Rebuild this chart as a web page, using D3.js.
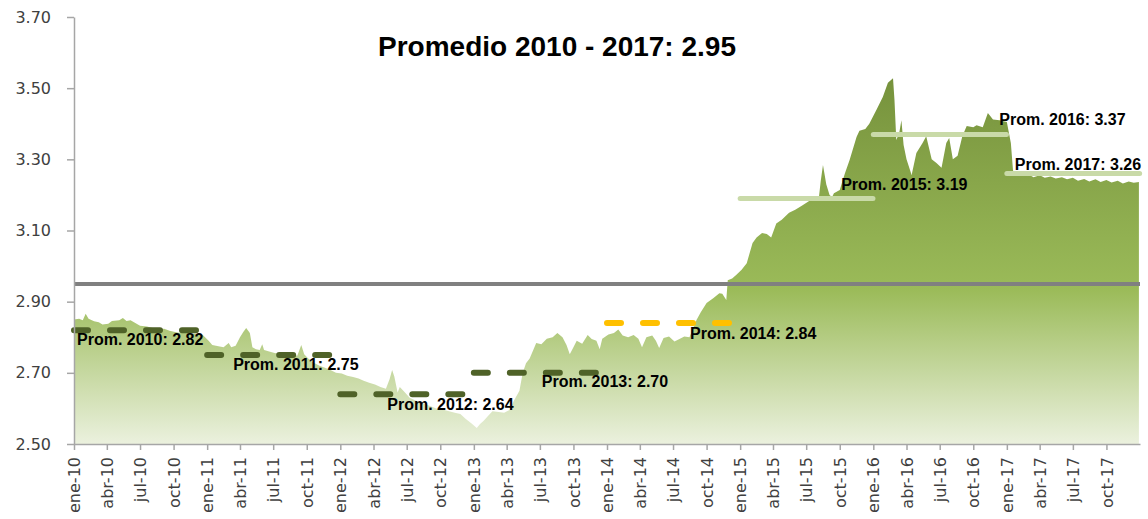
<!DOCTYPE html>
<meta charset="utf-8">
<script src="https://d3js.org/d3.v7.min.js"></script>
<style>
  body { margin: 0; background: #fff; }
  .axis text { font-family: 'DejaVu Sans', Verdana, sans-serif; font-size: 16px; fill: #404040; }
  .axis path, .axis line { stroke: #a6a6a6; stroke-width: 1.5px; }
  .prom { font-family: 'Liberation Sans', Arial, sans-serif; font-weight: bold; font-size: 16px; fill: #000; }
  .title { font-family: 'Liberation Sans', Arial, sans-serif; font-weight: bold; font-size: 28px; fill: #000; }
</style>
<div id="chart"></div>
<script>

// tipo de cambio (S/ por US$), lectura aproximada del grafico
var rateSeries = [
  ["2010-01-01",2.850],["2010-01-15",2.852],["2010-01-25",2.848],["2010-02-02",2.866],["2010-02-10",2.852],
  ["2010-02-25",2.845],["2010-03-10",2.842],["2010-03-20",2.836],["2010-04-05",2.838],["2010-04-15",2.846],
  ["2010-05-05",2.848],["2010-05-15",2.854],["2010-05-25",2.846],["2010-06-05",2.848],["2010-06-18",2.840],
  ["2010-07-01",2.832],["2010-07-20",2.830],["2010-08-05",2.826],["2010-08-20",2.822],["2010-09-05",2.824],
  ["2010-09-20",2.818],["2010-10-05",2.815],["2010-10-20",2.812],["2010-11-05",2.814],["2010-11-20",2.810],
  ["2010-12-05",2.810],["2010-12-20",2.806],
  ["2011-01-05",2.790],["2011-01-15",2.778],["2011-02-01",2.775],["2011-02-15",2.772],["2011-03-01",2.784],
  ["2011-03-08",2.772],["2011-03-20",2.776],["2011-04-01",2.800],["2011-04-10",2.815],["2011-04-18",2.826],
  ["2011-04-28",2.812],["2011-05-05",2.772],["2011-05-15",2.766],["2011-05-25",2.764],["2011-06-01",2.780],
  ["2011-06-06",2.764],["2011-06-20",2.760],["2011-07-05",2.756],["2011-07-20",2.753],["2011-08-05",2.750],
  ["2011-08-20",2.752],["2011-09-05",2.748],["2011-09-16",2.778],["2011-09-24",2.752],["2011-10-05",2.740],
  ["2011-10-20",2.728],["2011-11-05",2.720],["2011-11-20",2.714],["2011-12-05",2.708],["2011-12-20",2.700],
  ["2012-01-05",2.698],["2012-01-20",2.692],["2012-02-05",2.688],["2012-02-20",2.684],["2012-03-05",2.678],
  ["2012-03-20",2.672],["2012-04-05",2.667],["2012-04-20",2.660],["2012-05-05",2.655],["2012-05-15",2.682],
  ["2012-05-22",2.708],["2012-05-28",2.690],["2012-06-06",2.645],["2012-06-12",2.660],["2012-06-25",2.646],
  ["2012-07-09",2.630],["2012-07-25",2.622],["2012-08-10",2.616],["2012-08-25",2.610],["2012-09-10",2.604],
  ["2012-09-25",2.598],["2012-10-10",2.596],["2012-10-25",2.592],["2012-11-10",2.588],["2012-11-25",2.584],
  ["2012-12-10",2.570],["2012-12-25",2.558],
  ["2013-01-09",2.545],["2013-01-18",2.556],["2013-01-28",2.565],["2013-02-10",2.580],["2013-02-21",2.592],
  ["2013-03-10",2.590],["2013-03-25",2.588],["2013-04-10",2.596],["2013-04-20",2.620],["2013-05-06",2.650],
  ["2013-05-15",2.700],["2013-05-24",2.727],["2013-06-03",2.740],["2013-06-12",2.762],["2013-06-21",2.784],
  ["2013-07-05",2.780],["2013-07-20",2.796],["2013-08-05",2.800],["2013-08-18",2.812],["2013-09-01",2.800],
  ["2013-09-12",2.778],["2013-09-21",2.752],["2013-10-01",2.772],["2013-10-10",2.790],["2013-10-25",2.782],
  ["2013-11-09",2.806],["2013-11-20",2.795],["2013-12-03",2.790],["2013-12-12",2.766],["2013-12-19",2.796],
  ["2014-01-05",2.808],["2014-01-20",2.812],["2014-02-01",2.822],["2014-02-13",2.805],["2014-02-28",2.800],
  ["2014-03-15",2.806],["2014-03-28",2.796],["2014-04-07",2.772],["2014-04-19",2.800],["2014-05-05",2.805],
  ["2014-05-15",2.790],["2014-05-24",2.770],["2014-06-05",2.798],["2014-06-20",2.802],["2014-07-05",2.788],
  ["2014-07-20",2.796],["2014-08-01",2.802],["2014-08-15",2.800],["2014-09-03",2.848],["2014-09-15",2.870],
  ["2014-10-01",2.896],["2014-10-20",2.910],["2014-11-05",2.924],["2014-11-13",2.922],["2014-11-24",2.905],
  ["2014-11-28",2.960],["2014-12-10",2.965],["2014-12-21",2.975],
  ["2015-01-05",2.990],["2015-01-19",3.008],["2015-02-04",3.065],["2015-02-15",3.080],["2015-03-02",3.093],
  ["2015-03-15",3.090],["2015-03-27",3.080],["2015-04-10",3.120],["2015-04-25",3.130],["2015-05-15",3.150],
  ["2015-06-01",3.158],["2015-06-20",3.170],["2015-07-09",3.183],["2015-07-25",3.190],["2015-08-05",3.195],
  ["2015-08-10",3.240],["2015-08-16",3.284],["2015-08-25",3.230],["2015-09-03",3.200],["2015-09-10",3.194],
  ["2015-09-15",3.205],["2015-10-01",3.214],["2015-10-15",3.260],["2015-10-28",3.298],["2015-11-16",3.363],
  ["2015-11-24",3.380],["2015-12-10",3.385],["2015-12-21",3.400],
  ["2016-01-10",3.440],["2016-01-27",3.475],["2016-02-10",3.515],["2016-02-24",3.528],["2016-02-28",3.467],
  ["2016-03-04",3.354],["2016-03-12",3.374],["2016-03-18",3.410],["2016-03-24",3.340],["2016-04-01",3.300],
  ["2016-04-15",3.256],["2016-04-28",3.318],["2016-05-15",3.346],["2016-05-25",3.365],["2016-06-09",3.300],
  ["2016-06-22",3.290],["2016-07-06",3.276],["2016-07-19",3.346],["2016-07-27",3.360],["2016-08-06",3.300],
  ["2016-08-19",3.310],["2016-09-01",3.365],["2016-09-13",3.394],["2016-10-01",3.390],["2016-10-10",3.396],
  ["2016-10-27",3.390],["2016-11-10",3.430],["2016-11-24",3.412],["2016-12-12",3.410],
  ["2017-01-01",3.405],["2017-01-12",3.346],["2017-01-18",3.268],["2017-02-01",3.262],["2017-02-15",3.255],
  ["2017-03-01",3.258],["2017-03-15",3.250],["2017-04-01",3.255],["2017-04-15",3.248],["2017-05-01",3.252],
  ["2017-05-15",3.246],["2017-06-01",3.250],["2017-06-15",3.244],["2017-07-01",3.248],["2017-07-15",3.240],
  ["2017-08-01",3.245],["2017-08-15",3.238],["2017-09-01",3.244],["2017-09-15",3.236],["2017-10-01",3.242],
  ["2017-10-15",3.235],["2017-11-01",3.240],["2017-11-15",3.232],["2017-12-01",3.238],["2017-12-15",3.234],
  ["2017-12-29",3.236]
];

// promedios anuales
var avgYears  = [2010, 2011, 2012, 2013, 2014, 2015, 2016, 2017];
var avgValues = [2.82, 2.75, 2.64, 2.70, 2.84, 3.19, 3.37, 3.26];
var overallAvg = 2.95;

var quarterLabels = ["ene", "abr", "jul", "oct"];
var yTicks = [2.50, 2.70, 2.90, 3.10, 3.30, 3.50, 3.70];

var W = 1148, H = 519;

var parse = d3.timeParse("%Y-%m-%d");
var data = rateSeries.map(function(d) { return {date: parse(d[0]), value: d[1]}; });

var x = d3.scaleTime()
  .domain([new Date(2010, 0, 1), new Date(2018, 0, 1)])
  .range([74, 1140]);
var y = d3.scaleLinear()
  .domain([2.5, 3.7])
  .range([444, 17]);

var svg = d3.select("#chart").append("svg")
  .attr("width", W)
  .attr("height", H);

// gradient for the area
var grad = svg.append("defs").append("linearGradient")
  .attr("id", "fillGrad")
  .attr("gradientUnits", "userSpaceOnUse")
  .attr("x1", 0).attr("x2", 0)
  .attr("y1", y(3.53)).attr("y2", y(2.5));
grad.append("stop").attr("offset", "0").attr("stop-color", "#76923c");
grad.append("stop").attr("offset", "0.58").attr("stop-color", "#9bbb59");
grad.append("stop").attr("offset", "1").attr("stop-color", "#ebf1de");

// area
svg.append("path")
  .datum(data)
  .attr("fill", "url(#fillGrad)")
  .attr("d", d3.area()
    .x(function(d) { return x(d.date); })
    .y0(y(2.5))
    .y1(function(d) { return y(d.value); }));

// overall average
svg.append("line")
  .attr("x1", x.range()[0]).attr("x2", x.range()[1])
  .attr("y1", y(overallAvg)).attr("y2", y(overallAvg))
  .attr("stroke", "#808080")
  .attr("stroke-width", 4);

// yearly average lines
var lineColor = function(i) { return i < 4 ? "#4f6228" : (i == 4 ? "#ffc000" : "#c9daa8"); };
svg.selectAll("line.avg")
  .data(avgYears)
  .enter()
  .append("line")
    .attr("class", "avg")
    .attr("x1", function(d) { return x(new Date(d, 0, 1)); })
    .attr("x2", function(d) { return x(new Date(d, 11, 31)); })
    .attr("y1", function(d, i) { return y(avgValues[i]); })
    .attr("y2", function(d, i) { return y(avgValues[i]); })
    .attr("stroke", function(d, i) { return lineColor(i); })
    .attr("stroke-width", function(d, i) { return i < 5 ? 6 : 5; })
    .attr("stroke-linecap", "round")
    .attr("stroke-dasharray", function(d, i) { return i < 5 ? "14,22" : null; });

// label offsets from the start of each line [dx, dy]
var labelOffsets = [[3, 15], [26, 15], [47, 16], [68, 14], [83, 16], [101, -8], [126, -9], [8, -4]];
svg.selectAll("text.prom")
  .data(avgYears)
  .enter()
  .append("text")
    .attr("class", "prom")
    .attr("x", function(d, i) { return x(new Date(d, 0, 1)) + labelOffsets[i][0]; })
    .attr("y", function(d, i) { return y(avgValues[i]) + labelOffsets[i][1]; })
    .text(function(d, i) { return "Prom. " + d + ": " + avgValues[i].toFixed(2); });

// title
svg.append("text")
  .attr("class", "title")
  .attr("x", 378)
  .attr("y", 56)
  .text("Promedio 2010 - 2017: " + overallAvg.toFixed(2));

// axes
svg.append("g")
  .attr("class", "axis")
  .attr("transform", "translate(74,0)")
  .call(d3.axisLeft(y).tickValues(yTicks).tickFormat(d3.format(".2f")).tickSize(7).tickSizeOuter(0).tickPadding(16));

var fmtYear = d3.timeFormat("%y");
svg.append("g")
  .attr("class", "axis")
  .attr("transform", "translate(0,444)")
  .call(d3.axisBottom(x)
    .tickValues(d3.timeMonth.range(new Date(2010, 0, 1), new Date(2018, 0, 1), 3))
    .tickFormat(function(d) { return quarterLabels[d.getMonth() / 3] + "-" + fmtYear(d); })
    .tickSize(6).tickSizeOuter(0))
  .selectAll("text")
    .attr("transform", "rotate(-90)")
    .attr("text-anchor", "end")
    .attr("x", -13)
    .attr("y", 0)
    .attr("dy", "0.35em");

</script>
